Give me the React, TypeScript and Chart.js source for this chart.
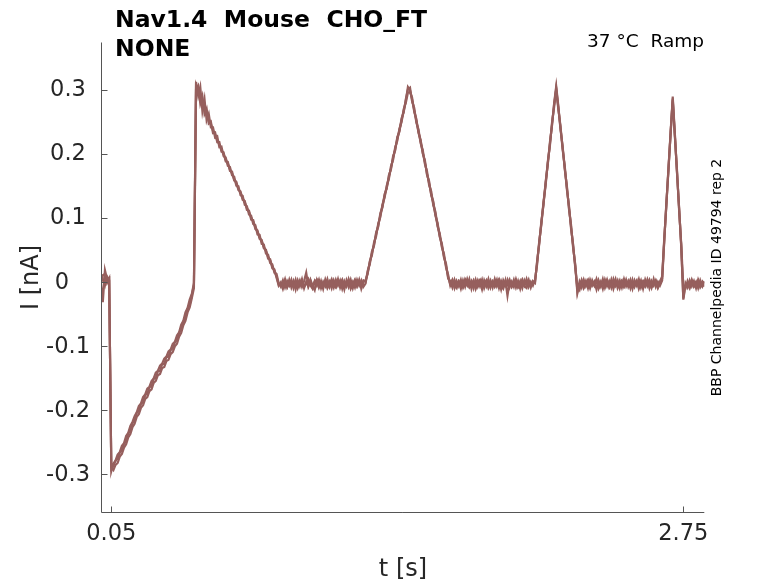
import React, { useEffect, useRef } from 'react';
import { Chart, registerables } from 'chart.js';

Chart.register(...registerables);

// sample times [s], 10 ms apart
const timeS = [
  0.00, 0.01, 0.02, 0.03, 0.04, 0.05, 0.06, 0.07, 0.08, 0.09,
  0.10, 0.11, 0.12, 0.13, 0.14, 0.15, 0.16, 0.17, 0.18, 0.19,
  0.20, 0.21, 0.22, 0.23, 0.24, 0.25, 0.26, 0.27, 0.28, 0.29,
  0.30, 0.31, 0.32, 0.33, 0.34, 0.35, 0.36, 0.37, 0.38, 0.39,
  0.40, 0.41, 0.42, 0.43, 0.44, 0.45, 0.46, 0.47, 0.48, 0.49,
  0.50, 0.51, 0.52, 0.53, 0.54, 0.55, 0.56, 0.57, 0.58, 0.59,
  0.60, 0.61, 0.62, 0.63, 0.64, 0.65, 0.66, 0.67, 0.68, 0.69,
  0.70, 0.71, 0.72, 0.73, 0.74, 0.75, 0.76, 0.77, 0.78, 0.79,
  0.80, 0.81, 0.82, 0.83, 0.84, 0.85, 0.86, 0.87, 0.88, 0.89,
  0.90, 0.91, 0.92, 0.93, 0.94, 0.95, 0.96, 0.97, 0.98, 0.99,
  1.00, 1.01, 1.02, 1.03, 1.04, 1.05, 1.06, 1.07, 1.08, 1.09,
  1.10, 1.11, 1.12, 1.13, 1.14, 1.15, 1.16, 1.17, 1.18, 1.19,
  1.20, 1.21, 1.22, 1.23, 1.24, 1.25, 1.26, 1.27, 1.28, 1.29,
  1.30, 1.31, 1.32, 1.33, 1.34, 1.35, 1.36, 1.37, 1.38, 1.39,
  1.40, 1.41, 1.42, 1.43, 1.44, 1.45, 1.46, 1.47, 1.48, 1.49,
  1.50, 1.51, 1.52, 1.53, 1.54, 1.55, 1.56, 1.57, 1.58, 1.59,
  1.60, 1.61, 1.62, 1.63, 1.64, 1.65, 1.66, 1.67, 1.68, 1.69,
  1.70, 1.71, 1.72, 1.73, 1.74, 1.75, 1.76, 1.77, 1.78, 1.79,
  1.80, 1.81, 1.82, 1.83, 1.84, 1.85, 1.86, 1.87, 1.88, 1.89,
  1.90, 1.91, 1.92, 1.93, 1.94, 1.95, 1.96, 1.97, 1.98, 1.99,
  2.00, 2.01, 2.02, 2.03, 2.04, 2.05, 2.06, 2.07, 2.08, 2.09,
  2.10, 2.11, 2.12, 2.13, 2.14, 2.15, 2.16, 2.17, 2.18, 2.19,
  2.20, 2.21, 2.22, 2.23, 2.24, 2.25, 2.26, 2.27, 2.28, 2.29,
  2.30, 2.31, 2.32, 2.33, 2.34, 2.35, 2.36, 2.37, 2.38, 2.39,
  2.40, 2.41, 2.42, 2.43, 2.44, 2.45, 2.46, 2.47, 2.48, 2.49,
  2.50, 2.51, 2.52, 2.53, 2.54, 2.55, 2.56, 2.57, 2.58, 2.59,
  2.60, 2.61, 2.62, 2.63, 2.64, 2.65, 2.66, 2.67, 2.68, 2.69,
  2.70, 2.71, 2.72, 2.73, 2.74, 2.75, 2.76, 2.77, 2.78, 2.79,
  2.80, 2.81, 2.82, 2.83, 2.84, 2.85,
];

// current [nA], sweep 1
const sweepA = [
  // 0.00 - 0.04 holding
  0.003, -0.032, 0.018, 0.004, 0.006,
  // 0.05 - 0.44 first ramp
  -0.296, -0.284, -0.279, -0.270, -0.266, -0.256, -0.252, -0.241, -0.236, -0.225,
  -0.219, -0.210, -0.204, -0.194, -0.190, -0.180, -0.176, -0.167, -0.164, -0.155,
  -0.151, -0.142, -0.139, -0.131, -0.128, -0.120, -0.117, -0.109, -0.106, -0.097,
  -0.094, -0.084, -0.079, -0.067, -0.061, -0.048, -0.041, -0.028, -0.019, -0.002,
  // 0.45 - 0.84
  0.312, 0.290, 0.304, 0.266, 0.285, 0.252, 0.262, 0.241, 0.241, 0.225,
  0.227, 0.210, 0.211, 0.196, 0.194, 0.181, 0.179, 0.166, 0.164, 0.150,
  0.149, 0.135, 0.134, 0.120, 0.118, 0.105, 0.103, 0.090, 0.088, 0.074,
  0.073, 0.059, 0.058, 0.044, 0.042, 0.029, 0.027, 0.014, 0.012, -0.002,
  // 0.85 - 1.24
  -0.008, 0.002, -0.009, 0.001, -0.006, 0.003, -0.010, 0.000, -0.007, 0.002,
  -0.008, 0.001, 0.014, -0.007, 0.002, -0.009, 0.001, -0.006, 0.003, -0.010,
  0.000, -0.007, 0.004, -0.008, 0.001, -0.009, 0.003, -0.006, 0.002, -0.011,
  0.001, -0.007, 0.004, -0.008, 0.000, -0.009, 0.003, -0.006, 0.002, -0.008,
  // 1.25 - 1.45
  -0.003, 0.017, 0.027, 0.047, 0.056, 0.077, 0.086, 0.107, 0.116, 0.137,
  0.145, 0.166, 0.175, 0.196, 0.205, 0.226, 0.234, 0.255, 0.264, 0.285, 0.300,
  // 1.46 - 1.64
  0.303, 0.281, 0.271, 0.248, 0.238, 0.216, 0.206, 0.184, 0.173, 0.151,
  0.141, 0.119, 0.109, 0.086, 0.076, 0.054, 0.044, 0.022, 0.011,
  // 1.65 - 2.04
  -0.006, 0.002, -0.010, 0.001, -0.007, 0.003, -0.009, 0.000, -0.006, 0.004,
  -0.011, 0.001, -0.008, 0.002, -0.007, 0.003, -0.010, 0.000, -0.006, 0.002,
  -0.009, 0.004, -0.007, 0.001, -0.012, 0.002, -0.006, 0.003, -0.009, 0.000,
  -0.008, 0.004, -0.007, 0.001, -0.010, 0.002, -0.006, 0.003, -0.009, 0.001,
  // 2.05 - 2.15
  -0.002, 0.033, 0.059, 0.095, 0.120, 0.156, 0.182, 0.217, 0.243, 0.278, 0.305,
  // 2.16 - 2.24
  0.275, 0.238, 0.213, 0.176, 0.151, 0.114, 0.089, 0.052, 0.027,
  // 2.25 - 2.64
  -0.015, 0.000, -0.009, 0.003, -0.007, 0.001, -0.010, 0.002, -0.006, 0.004,
  -0.008, 0.000, -0.011, 0.003, -0.007, 0.001, -0.009, 0.004, -0.006, 0.002,
  -0.010, 0.000, -0.007, 0.003, -0.008, 0.001, -0.011, 0.002, -0.006, 0.004,
  -0.009, 0.000, -0.007, 0.003, -0.010, 0.001, -0.006, 0.002, -0.008, 0.001,
  // 2.65 - 2.75
  0.008, 0.068, 0.119, 0.179, 0.230, 0.289,
  0.232, 0.170, 0.117, 0.055, -0.026,
  // 2.76 - 2.85
  -0.002, -0.009, 0.002, -0.007, 0.001, -0.010, 0.003, -0.006, 0.000, -0.008,
];

// current [nA], sweep 2
const sweepB = [
  0.001, 0.004, -0.006, 0.008, 0.002,
  -0.290, -0.294, -0.286, -0.283, -0.273, -0.269, -0.259, -0.254, -0.243, -0.238,
  -0.227, -0.222, -0.211, -0.207, -0.197, -0.193, -0.183, -0.180, -0.171, -0.168,
  -0.158, -0.155, -0.146, -0.144, -0.135, -0.133, -0.124, -0.122, -0.113, -0.110,
  -0.101, -0.097, -0.086, -0.080, -0.068, -0.061, -0.048, -0.040, -0.026, -0.010,
  0.300, 0.306, 0.278, 0.290, 0.262, 0.270, 0.247, 0.250, 0.232, 0.233,
  0.218, 0.218, 0.203, 0.202, 0.188, 0.187, 0.173, 0.172, 0.158, 0.156,
  0.143, 0.141, 0.128, 0.126, 0.112, 0.111, 0.097, 0.096, 0.082, 0.080,
  0.067, 0.065, 0.052, 0.050, 0.036, 0.035, 0.021, 0.019, 0.006, -0.006,
  -0.001, -0.011, 0.000, -0.008, 0.003, -0.009, 0.001, -0.012, 0.002, -0.007,
  0.004, -0.010, 0.000, -0.008, 0.003, -0.006, -0.013, 0.002, -0.009, 0.001,
  -0.011, 0.003, -0.008, 0.000, -0.010, 0.002, -0.007, 0.004, -0.009, 0.001,
  -0.012, 0.002, -0.008, 0.003, -0.010, 0.001, -0.007, 0.003, -0.011, 0.000,
  0.002, 0.012, 0.032, 0.041, 0.061, 0.071, 0.091, 0.101, 0.121, 0.131,
  0.150, 0.160, 0.180, 0.190, 0.210, 0.220, 0.239, 0.249, 0.269, 0.279, 0.295,
  0.296, 0.287, 0.265, 0.254, 0.232, 0.222, 0.200, 0.190, 0.167, 0.157,
  0.135, 0.125, 0.103, 0.092, 0.070, 0.060, 0.038, 0.028, 0.005,
  0.001, -0.009, 0.003, -0.007, 0.000, -0.011, 0.002, -0.008, 0.004, -0.006,
  0.001, -0.010, 0.003, -0.008, 0.000, -0.012, 0.002, -0.007, 0.004, -0.009,
  0.000, -0.006, 0.003, -0.010, 0.001, -0.008, 0.002, -0.022, 0.000, -0.007,
  0.003, -0.009, 0.001, -0.011, 0.002, -0.006, 0.004, -0.008, 0.000, -0.006,
  0.003, 0.027, 0.064, 0.089, 0.125, 0.150, 0.187, 0.211, 0.248, 0.272, 0.300,
  0.269, 0.244, 0.207, 0.182, 0.145, 0.120, 0.083, 0.058, 0.021,
  -0.008, -0.013, 0.002, -0.008, 0.001, -0.010, 0.003, -0.006, 0.000, -0.012,
  0.002, -0.007, 0.004, -0.009, 0.001, -0.008, 0.003, -0.011, 0.000, -0.006,
  0.002, -0.009, 0.004, -0.007, 0.001, -0.010, 0.003, -0.008, 0.000, -0.006,
  0.002, -0.011, 0.003, -0.007, 0.001, -0.009, 0.004, -0.008, 0.000, -0.006,
  0.002, 0.063, 0.124, 0.174, 0.235, 0.283,
  0.227, 0.175, 0.112, 0.060, -0.010,
  -0.011, 0.001, -0.008, 0.003, -0.006, 0.000, -0.010, 0.002, -0.007, 0.001,
];

// current [nA], sweep 3
const sweepC = [
  -0.004, 0.010, 0.012, -0.002, 0.005,
  -0.292, -0.287, -0.280, -0.276, -0.267, -0.263, -0.253, -0.249, -0.237, -0.233,
  -0.221, -0.217, -0.205, -0.202, -0.191, -0.188, -0.177, -0.175, -0.165, -0.163,
  -0.152, -0.150, -0.140, -0.139, -0.129, -0.128, -0.118, -0.117, -0.107, -0.104,
  -0.095, -0.091, -0.080, -0.074, -0.062, -0.056, -0.042, -0.036, -0.021, -0.005,
  0.306, 0.296, 0.290, 0.280, 0.270, 0.262, 0.254, 0.246, 0.236, 0.230,
  0.221, 0.214, 0.206, 0.199, 0.190, 0.184, 0.175, 0.169, 0.160, 0.154,
  0.145, 0.139, 0.130, 0.124, 0.115, 0.109, 0.100, 0.094, 0.085, 0.078,
  0.069, 0.063, 0.054, 0.048, 0.039, 0.033, 0.024, 0.017, 0.008, -0.004,
  -0.003, -0.006, 0.004, -0.009, -0.002, 0.001, -0.007, 0.003, -0.010, -0.001,
  0.002, -0.008, -0.003, 0.004, -0.006, -0.011, 0.000, 0.003, -0.008, -0.002,
  -0.005, 0.002, -0.010, -0.003, 0.004, -0.006, -0.009, 0.001, -0.004, 0.003,
  -0.008, -0.002, 0.002, -0.011, -0.004, 0.003, -0.007, 0.000, -0.005, 0.002,
  0.000, 0.014, 0.030, 0.044, 0.058, 0.074, 0.088, 0.104, 0.118, 0.134,
  0.147, 0.163, 0.177, 0.193, 0.207, 0.223, 0.236, 0.252, 0.266, 0.282, 0.304,
  0.299, 0.284, 0.267, 0.251, 0.234, 0.219, 0.202, 0.187, 0.169, 0.154,
  0.137, 0.122, 0.105, 0.089, 0.072, 0.057, 0.040, 0.025, 0.007,
  -0.004, 0.003, -0.006, -0.010, 0.001, -0.003, -0.008, 0.004, -0.002, -0.009,
  -0.004, 0.002, -0.011, -0.001, 0.003, -0.007, -0.004, 0.002, -0.010, -0.003,
  0.001, -0.008, -0.002, 0.004, -0.006, -0.011, 0.000, -0.005, 0.003, -0.008,
  -0.002, 0.001, -0.009, -0.004, 0.003, -0.007, -0.010, 0.001, -0.004, -0.002,
  0.000, 0.031, 0.061, 0.092, 0.122, 0.153, 0.184, 0.214, 0.245, 0.276, 0.302,
  0.272, 0.241, 0.210, 0.179, 0.148, 0.117, 0.086, 0.055, 0.024,
  -0.018, -0.004, 0.002, -0.010, -0.003, 0.003, -0.008, -0.001, -0.006, 0.002,
  -0.011, -0.004, 0.001, -0.007, 0.003, -0.009, -0.002, -0.005, 0.004, -0.010,
  -0.003, 0.002, -0.008, -0.001, -0.006, 0.003, -0.009, -0.004, 0.002, -0.011,
  -0.002, 0.001, -0.007, -0.003, 0.003, -0.009, -0.004, 0.001, -0.010, -0.003,
  0.005, 0.065, 0.121, 0.177, 0.232, 0.286,
  0.229, 0.172, 0.114, 0.057, -0.028,
  -0.006, -0.003, -0.010, 0.001, -0.008, -0.003, 0.002, -0.009, -0.004, 0.000,
];

const xTicks = [0.05, 2.75];
const xTickLabels = ['0.05', '2.75'];
const yTicks = [-0.3, -0.2, -0.1, 0, 0.1, 0.2, 0.3];
const yTickLabels = ['-0.3', '-0.2', '-0.1', '0', '0.1', '0.2', '0.3'];

const titleLines = ['Nav1.4  Mouse  CHO_FT', 'NONE'];
const conditionText = '37 \u00B0C  Ramp';
const sideText = 'BBP Channelpedia ID 49794 rep 2';

const traceColor = '#965f5d';
const FONT = '"DejaVu Sans", sans-serif';

const axesPlugin = {
  id: 'matlabAxes',
  afterDraw(chart) {
    const { ctx, chartArea, scales } = chart;
    const xs = scales.x;
    const ys = scales.y;
    const left = Math.round(chartArea.left) + 0.5;
    const bottom = Math.round(chartArea.bottom) + 0.5;

    ctx.save();
    ctx.strokeStyle = '#555555';
    ctx.lineWidth = 1;
    ctx.beginPath();
    ctx.moveTo(left, chartArea.top);
    ctx.lineTo(left, bottom);
    ctx.lineTo(chartArea.right, bottom);
    yTicks.forEach((v) => {
      const py = Math.round(ys.getPixelForValue(v)) + 0.5;
      ctx.moveTo(left, py);
      ctx.lineTo(left + 6, py);
    });
    xTicks.forEach((v) => {
      const px = Math.round(xs.getPixelForValue(v)) + 0.5;
      ctx.moveTo(px, bottom);
      ctx.lineTo(px, bottom - 6);
    });
    ctx.stroke();

    // tick labels
    ctx.fillStyle = '#262626';
    ctx.font = `22.5px ${FONT}`;
    ctx.textAlign = 'center';
    ctx.textBaseline = 'middle';
    yTicks.forEach((v, i) => {
      const dx = yTickLabels[i] === '0' ? -6 : 0;
      ctx.fillText(yTickLabels[i], 68 + dx, ys.getPixelForValue(v) + 1);
    });
    ctx.textBaseline = 'alphabetic';
    xTicks.forEach((v, i) => {
      ctx.fillText(xTickLabels[i], xs.getPixelForValue(v), 540);
    });

    // axis titles
    ctx.font = `24px ${FONT}`;
    ctx.fillText('t [s]', 403, 576);
    ctx.save();
    ctx.translate(38, 277.5);
    ctx.rotate(-Math.PI / 2);
    ctx.fillText('I [nA]', 0, 0);
    ctx.restore();

    // title and annotations
    ctx.fillStyle = '#000000';
    ctx.textAlign = 'left';
    ctx.font = `bold 23.5px ${FONT}`;
    ctx.fillText(titleLines[0], 115, 27);
    ctx.fillText(titleLines[1], 115, 56);

    ctx.textAlign = 'right';
    ctx.font = `18.5px ${FONT}`;
    ctx.fillText(conditionText, 704, 47);

    ctx.save();
    ctx.translate(721, 277.5);
    ctx.rotate(-Math.PI / 2);
    ctx.textAlign = 'center';
    ctx.font = `14px ${FONT}`;
    ctx.fillText(sideText, 0, 0);
    ctx.restore();

    ctx.restore();
  },
};

const App = () => {
  const canvasRef = useRef(null);

  useEffect(() => {
    if (!canvasRef.current) return;

    const toPoints = (values) => timeS.map((t, i) => ({ x: t, y: values[i] }));

    const chart = new Chart(canvasRef.current, {
      type: 'line',
      data: {
        datasets: [sweepA, sweepB, sweepC].map((values, i) => ({
          label: `Sweep ${i + 1}`,
          data: toPoints(values),
          borderColor: traceColor,
          borderWidth: 2.2,
          pointRadius: 0,
          tension: 0,
          fill: false,
        })),
      },
      options: {
        animation: false,
        responsive: false,
        devicePixelRatio: 1,
        events: [],
        layout: { padding: { left: 0, right: 73.7, top: 42.5, bottom: 0 } },
        plugins: { legend: { display: false }, tooltip: { enabled: false } },
        scales: {
          x: {
            type: 'linear',
            min: 0.0028,
            max: 2.849,
            grid: { display: false, drawTicks: false },
            border: { display: false },
            ticks: { display: false },
            afterBuildTicks: (s) => { s.ticks = xTicks.map((v) => ({ value: v })); },
            afterFit: (s) => { s.height = 70.7; },
          },
          y: {
            type: 'linear',
            min: -0.36,
            max: 0.3734,
            grid: { display: false, drawTicks: false },
            border: { display: false },
            ticks: { display: false },
            afterBuildTicks: (s) => { s.ticks = yTicks.map((v) => ({ value: v })); },
            afterFit: (s) => { s.width = 101.3; },
          },
        },
      },
      plugins: [axesPlugin],
    });

    return () => {
      chart.destroy();
    };
  }, []);

  return (
    <div style={{ position: 'fixed', left: 0, top: 0, width: 778, height: 583, background: '#fff' }}>
      <canvas ref={canvasRef} width={778} height={583} />
    </div>
  );
};

export default App;
